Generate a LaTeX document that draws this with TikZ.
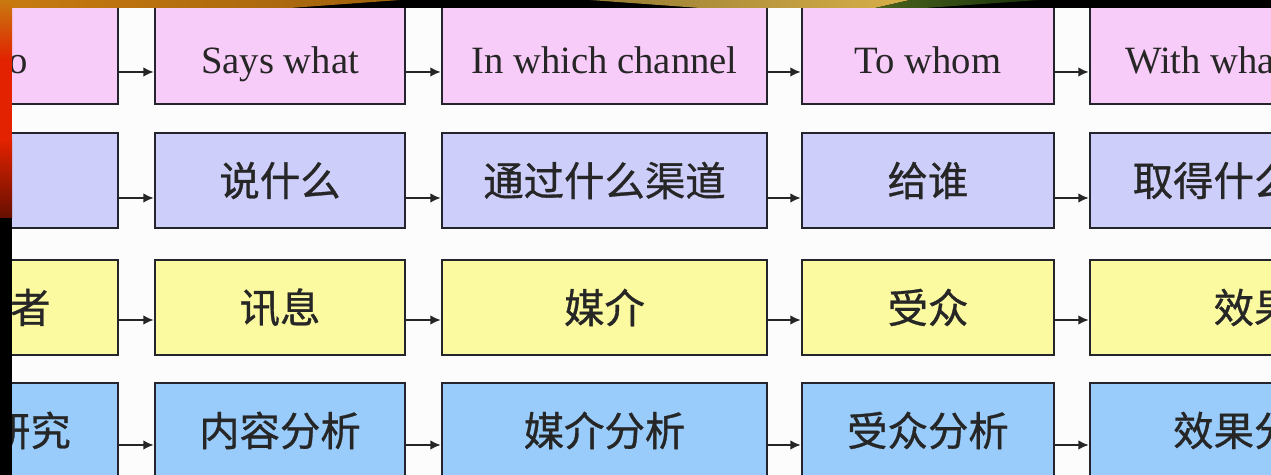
\documentclass[tikz,border=0pt]{standalone}
\usepackage{fontspec}
\setmainfont{Liberation Serif}
\newfontfamily\cjk[FakeBold=0.8]{Noto Sans CJK SC}
\usetikzlibrary{positioning,arrows.meta}

\definecolor{rowpink}{RGB}{248,204,248}
\definecolor{rowlilac}{RGB}{206,206,250}
\definecolor{rowyellow}{RGB}{252,250,160}
\definecolor{rowblue}{RGB}{153,204,250}
\definecolor{edgegray}{RGB}{36,36,44}
\definecolor{bandorange}{RGB}{200,122,16}
\definecolor{bandred}{RGB}{226,34,0}
\definecolor{bandgold}{RGB}{216,176,72}
\definecolor{bandgreen}{RGB}{40,80,16}

\begin{document}
\begin{tikzpicture}[x=0.02cm, y=-0.02cm,
  cell/.style={draw=edgegray, line width=1.4pt, inner sep=0pt, minimum height=1.9cm, text=black!85},
  wordcell/.style={cell, fill=rowpink, minimum height=2.2cm, font=\fontsize{22}{25}\selectfont, text height=28pt, text depth=0pt},
  hancell/.style={cell, font=\cjk\fontsize{23}{26}\selectfont},
  link/.style={-{Latex[length=6pt,width=5.5pt]}, line width=1.1pt, draw=black!85}]

\useasboundingbox (0,0) rectangle (1271,475);
\clip (0,0) rectangle (1271,475);
\fill[white!99!black] (0,0) rectangle (1271,475);

% columns
\def\xa{-10}
\def\xb{280}
\def\xc{604.5}
\def\xd{928}
\def\xe{1254}

% rows
\def\ya{49}
\def\yb{180.5}
\def\yc{307.5}
\def\yd{430.5}

% 5W row
\node[wordcell, minimum width=5.12cm] (who) at (\xa, \ya) {Who};
\node[wordcell, minimum width=5cm] (what) at (\xb, \ya) {Says what};
\node[wordcell, minimum width=6.5cm] (channel) at (\xc, \ya) {In which channel};
\node[wordcell, minimum width=5.04cm] (whom) at (\xd, \ya) {To whom};
\node[wordcell, minimum width=6.56cm] (effect) at (\xe, \ya) {With what effect};

% questions in chinese
\node[hancell, fill=rowlilac, minimum width=5.12cm] (shui) at (\xa, \yb) {};
\node[hancell, fill=rowlilac, minimum width=5cm] (shuo) at (\xb, \yb) {说什么};
\node[hancell, fill=rowlilac, minimum width=6.5cm] (qudao) at (\xc, \yb) {通过什么渠道};
\node[hancell, fill=rowlilac, minimum width=5.04cm] (gei) at (\xd, \yb) {给谁};
\node[hancell, fill=rowlilac, minimum width=6.56cm] (qude) at (\xe, \yb) {取得什么效果};

% elements
\node[hancell, fill=rowyellow, minimum width=5.12cm] (zhe) at (\xa, \yc) {传播者};
\node[hancell, fill=rowyellow, minimum width=5cm] (xunxi) at (\xb, \yc) {讯息};
\node[hancell, fill=rowyellow, minimum width=6.5cm] (meijie) at (\xc, \yc) {媒介};
\node[hancell, fill=rowyellow, minimum width=5.04cm] (shouzhong) at (\xd, \yc) {受众};
\node[hancell, fill=rowyellow, minimum width=6.56cm] (xiaoguo) at (\xe, \yc) {效果};

% research fields
\node[hancell, fill=rowblue, minimum width=5.12cm] (kongzhi) at (\xa, \yd) {控制研究};
\node[hancell, fill=rowblue, minimum width=5cm] (neirong) at (\xb, \yd) {内容分析};
\node[hancell, fill=rowblue, minimum width=6.5cm] (meifen) at (\xc, \yd) {媒介分析};
\node[hancell, fill=rowblue, minimum width=5.04cm] (shoufen) at (\xd, \yd) {受众分析};
\node[hancell, fill=rowblue, minimum width=6.56cm] (xiaofen) at (\xe, \yd) {效果分析};

% arrows, a bit below the middle
\draw[link] ([yshift=-0.46cm]who.east) -- ([yshift=-0.46cm]what.west);
\draw[link] ([yshift=-0.46cm]what.east) -- ([yshift=-0.46cm]channel.west);
\draw[link] ([yshift=-0.46cm]channel.east) -- ([yshift=-0.46cm]whom.west);
\draw[link] ([yshift=-0.46cm]whom.east) -- ([yshift=-0.46cm]effect.west);

\draw[link] ([yshift=-0.35cm]shui.east) -- ([yshift=-0.35cm]shuo.west);
\draw[link] ([yshift=-0.35cm]shuo.east) -- ([yshift=-0.35cm]qudao.west);
\draw[link] ([yshift=-0.35cm]qudao.east) -- ([yshift=-0.35cm]gei.west);
\draw[link] ([yshift=-0.35cm]gei.east) -- ([yshift=-0.35cm]qude.west);

\draw[link] ([yshift=-0.25cm]zhe.east) -- ([yshift=-0.25cm]xunxi.west);
\draw[link] ([yshift=-0.25cm]xunxi.east) -- ([yshift=-0.25cm]meijie.west);
\draw[link] ([yshift=-0.25cm]meijie.east) -- ([yshift=-0.25cm]shouzhong.west);
\draw[link] ([yshift=-0.25cm]shouzhong.east) -- ([yshift=-0.25cm]xiaoguo.west);

\draw[link] ([yshift=-0.29cm]kongzhi.east) -- ([yshift=-0.29cm]neirong.west);
\draw[link] ([yshift=-0.29cm]neirong.east) -- ([yshift=-0.29cm]meifen.west);
\draw[link] ([yshift=-0.29cm]meifen.east) -- ([yshift=-0.29cm]shoufen.west);
\draw[link] ([yshift=-0.29cm]shoufen.east) -- ([yshift=-0.29cm]xiaofen.west);

% slide border, top
\fill[black] (0,0) rectangle (1271,8);
\shade[left color=bandorange, right color=bandorange!80!black] (0,0) -- (400,0) -- (290,8) -- (0,8) -- cycle;
\shade[left color=bandgold!70!black, right color=bandgold] (590,0) -- (910,0) -- (875,8) -- (700,8) -- cycle;
\shade[left color=bandgreen!80!bandgold, right color=bandgreen!60!black] (875,8) -- (910,0) -- (1040,0) -- (925,8) -- cycle;

% slide border, left
\shade[top color=bandorange, bottom color=bandred] (0,0) rectangle (12,60);
\fill[bandred] (0,60) rectangle (12,140);
\shade[top color=bandred, bottom color=bandred!45!black] (0,140) rectangle (12,218);
\fill[black] (0,218) rectangle (12,475);
\end{tikzpicture}
\end{document}
